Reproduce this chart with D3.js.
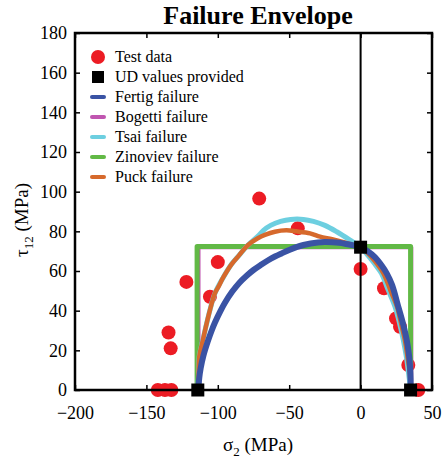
<!DOCTYPE html>
<meta charset="utf-8">
<style>
body { margin: 0; background: #fff; }
svg text { fill: #000; font-family: "Liberation Serif", "DejaVu Serif", serif; }
.axis text { font-size: 18px; }
.axis line { stroke: #000; stroke-width: 1.5px; }
.curve { fill: none; stroke-linejoin: round; stroke-linecap: round; }
.legend text { font-size: 16px; }
</style>
<svg id="svg" width="446" height="460"></svg>
<script src="https://d3js.org/d3.v7.min.js"></script>
<script>

// test points and given UD strengths [sigma2, tau12]
const testData = [
    [-71, 96.5], [-100, 64.5], [-122, 54.5], [-105.5, 47], [-44, 81.5],
    [-134.5, 29], [-133, 21], [-142, 0], [-137, 0], [-132.5, 0],
    [0, 61], [16.4, 51.3], [24.8, 36.1], [27.6, 31.9], [33.4, 12.6], [40.4, 0]
]
const udValues = [[-114, 0], [0, 72], [35, 0]]

const fertig = [
    [-113.6, 0], [-113, 6], [-112, 11], [-110, 17.5], [-107, 24.5], [-104, 30.5],
    [-102, 34], [-98, 40], [-95, 44], [-90, 49.5], [-85, 54], [-80, 57.5], [-75, 60.5],
    [-70, 63], [-65, 65.3], [-60, 67.3], [-55, 69], [-50, 70.6], [-45, 72], [-40, 73.1],
    [-35, 73.9], [-30, 74.4], [-25, 74.6], [-20, 74.5], [-15, 74.2], [-10, 73.6],
    [-5, 72.9], [0, 72], [5, 70], [10, 67], [15, 62.5], [18.3, 58.8], [22, 53],
    [26.4, 42], [29.5, 34], [32.3, 25.2], [34, 17], [34.6, 11.8], [35, 5], [35, 0]
]
const bogetti = [[-113.5, 0], [-113.5, 72], [35.5, 72], [35.5, 0]]
const tsai = [
    [-114, 0], [-113.5, 8], [-113, 16.8], [-110.5, 25], [-107.8, 33.6], [-105.5, 40.3],
    [-102, 48.8], [-96, 57], [-90.3, 63.5], [-85, 68], [-79, 73], [-72, 77.5],
    [-68, 80.5], [-63, 83], [-56, 85], [-49, 86], [-40, 86], [-33, 85], [-25, 83],
    [-16.7, 79.8], [-7.4, 75.6], [0, 72], [5, 68], [10, 63.5], [14.6, 58.8], [19, 51],
    [24.1, 42], [27.5, 33], [29.9, 25.2], [32, 17], [33.5, 9], [35, 0]
]
const zinoviev = [[-114.5, 0], [-114.5, 72.3], [35, 72.3], [35, 0]]
const puck = [
    [-114, 0], [-113.5, 8], [-113, 16.8], [-110.5, 25], [-107.8, 33.6], [-105.5, 40.3],
    [-102, 48.8], [-99.6, 52], [-96, 57], [-90.3, 63.5], [-85, 68], [-79, 73],
    [-72, 76.5], [-67, 78.2], [-60, 79.8], [-52, 80.5], [-45, 80], [-35.4, 79],
    [-28.4, 77.3], [-20, 76], [-11.9, 74.5], [-5, 73], [0, 72], [5, 69], [10, 65],
    [16, 58.8], [21, 50], [25.5, 42], [28.5, 33], [31, 25.2], [33, 16], [34.5, 8], [35, 0]
]

const xTicks = [-200, -150, -100, -50, 0, 50]
const yTicks = [0, 20, 40, 60, 80, 100, 120, 140, 160, 180]

const legendItems = [
    {name: 'Test data', type: 'circle', color: '#ec1c24'},
    {name: 'UD values provided', type: 'square', color: '#000'},
    {name: 'Fertig failure', type: 'line', color: '#3a53a4'},
    {name: 'Bogetti failure', type: 'line', color: '#c055b0'},
    {name: 'Tsai failure', type: 'line', color: '#6dcfe0'},
    {name: 'Zinoviev failure', type: 'line', color: '#62b946'},
    {name: 'Puck failure', type: 'line', color: '#d6692c'}
]

const curves = [
    {data: bogetti, color: '#c055b0', width: 4, curve: d3.curveLinear},
    {data: zinoviev, color: '#62b946', width: 5, curve: d3.curveLinear},
    {data: tsai, color: '#6dcfe0', width: 5, curve: d3.curveCatmullRom},
    {data: puck, color: '#d6692c', width: 4.5, curve: d3.curveCatmullRom},
    {data: fertig, color: '#3a53a4', width: 6, curve: d3.curveCatmullRom}
]

function translate(x, y) {
    return 'translate(' + x + ',' + y + ')'
}

let plotLeft = 75, plotRight = 432, plotTop = 33, plotBottom = 390

let svg = d3.select('#svg')
let x = d3.scaleLinear().domain([-200, 50]).range([plotLeft, plotRight])
let y = d3.scaleLinear().domain([0, 180]).range([plotBottom, plotTop])

// title
svg.append('text')
    .attr('x', 258)
    .attr('y', 24)
    .attr('text-anchor', 'middle')
    .style('font-size', '26px')
    .style('font-weight', 'bold')
    .text('Failure Envelope')

// test data under the curves
svg.append('g').selectAll('circle')
    .data(testData)
    .enter().append('circle')
    .attr('cx', d => x(d[0]))
    .attr('cy', d => y(d[1]))
    .attr('r', 7)
    .attr('fill', '#ec1c24')

// sigma2 = 0 line
svg.append('line')
    .attr('x1', x(0)).attr('x2', x(0))
    .attr('y1', y(0)).attr('y2', y(180))
    .attr('stroke', '#000')
    .attr('stroke-width', 2)

curves.forEach(c => {
    let line = d3.line()
        .curve(c.curve)
        .x(d => x(d[0]))
        .y(d => y(d[1]))
    svg.append('path')
        .attr('class', 'curve')
        .attr('d', line(c.data))
        .attr('stroke', c.color)
        .attr('stroke-width', c.width)
})

// axes, ticks pointing inward
svg.append('g').attr('class', 'axis').attr('transform', translate(0, plotBottom))
    .call(d3.axisBottom(x).tickValues(xTicks).tickSize(-5).tickPadding(16))
svg.append('g').attr('class', 'axis').attr('transform', translate(plotLeft, 0))
    .call(d3.axisLeft(y).tickValues(yTicks).tickSize(-5).tickPadding(8))
svg.append('g').attr('class', 'axis').attr('transform', translate(0, plotTop))
    .call(d3.axisTop(x).tickValues(xTicks).tickSize(-5).tickFormat(''))
svg.append('g').attr('class', 'axis').attr('transform', translate(plotRight, 0))
    .call(d3.axisRight(y).tickValues(yTicks).tickSize(-5).tickFormat(''))
svg.selectAll('.axis .domain').remove()
svg.selectAll('.axis').attr('font-family', null).attr('font-size', null)

svg.append('rect')
    .attr('x', plotLeft).attr('y', plotTop)
    .attr('width', plotRight - plotLeft).attr('height', plotBottom - plotTop)
    .attr('fill', 'none')
    .attr('stroke', '#000')
    .attr('stroke-width', 2.5)

// UD squares on top
svg.append('g').selectAll('rect')
    .data(udValues)
    .enter().append('rect')
    .attr('x', d => x(d[0]) - 6.5)
    .attr('y', d => y(d[1]) - 6.5)
    .attr('width', 13)
    .attr('height', 13)
    .attr('fill', '#000')

// axis titles
let xl = svg.append('text')
    .attr('x', 258).attr('y', 451)
    .attr('text-anchor', 'middle')
    .style('font-size', '19px')
xl.append('tspan').text('σ')
xl.append('tspan').attr('dy', 5).style('font-size', '13px').text('2')
xl.append('tspan').attr('dy', -5).text(' (MPa)')

let yl = svg.append('text')
    .attr('transform', translate(28, 220) + ' rotate(-90)')
    .attr('text-anchor', 'middle')
    .style('font-size', '19px')
yl.append('tspan').text('τ')
yl.append('tspan').attr('dy', 5).style('font-size', '13px').text('12')
yl.append('tspan').attr('dy', -5).text(' (MPa)')

// legend
let legend = svg.append('g').attr('class', 'legend')
let items = legend.selectAll('g')
    .data(legendItems)
    .enter().append('g')
    .attr('transform', (d, i) => translate(98, 57 + i * 20))

items.filter(d => d.type === 'circle').append('circle')
    .attr('r', 7).attr('fill', d => d.color)
items.filter(d => d.type === 'square').append('rect')
    .attr('x', -6).attr('y', -6).attr('width', 12).attr('height', 12)
    .attr('fill', d => d.color)
items.filter(d => d.type === 'line').append('line')
    .attr('x1', -6).attr('x2', 6)
    .attr('stroke', d => d.color)
    .attr('stroke-width', 4)
    .attr('stroke-linecap', 'round')

items.append('text')
    .attr('x', 17)
    .attr('dy', '0.32em')
    .text(d => d.name)

</script>
